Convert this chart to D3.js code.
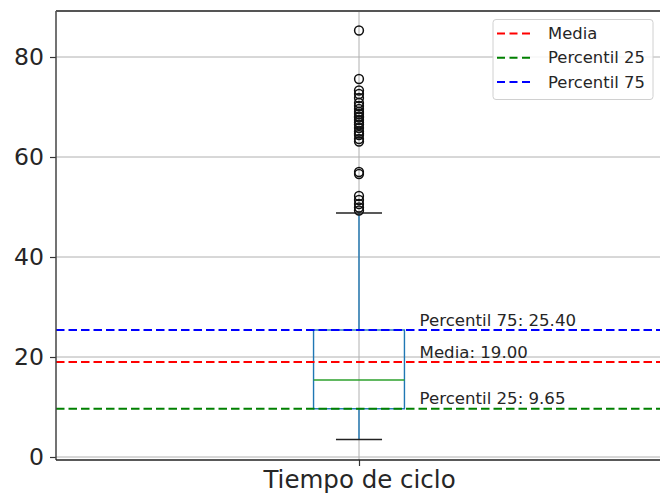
<!DOCTYPE html>
<html>
<head>
<meta charset="utf-8">
<script src="https://cdn.jsdelivr.net/npm/d3@7"></script>
<style>
  html, body { margin: 0; padding: 0; background: #fff; }
  svg { display: block; font-family: "DejaVu Sans", sans-serif; }
</style>
</head>
<body>
<svg id="chart" width="660" height="497"></svg>
<script>
// Box plot data for the cycle time column
const categories = ["Tiempo de ciclo"];
const quartiles = [9.65, 15.4, 25.4];        // Q1, median, Q3
const whiskers = [3.5, 48.8];                // lower / upper whisker ends
const outliers = [85.3, 75.6, 73.3, 72.6, 71.8, 70.8, 70.2, 69.6, 69.0, 68.6,
                  68.1, 67.9, 67.4, 66.9, 66.5, 65.8, 65.1, 64.7, 64.4, 63.6,
                  63.1, 57.0, 56.6, 52.2, 51.4, 50.6, 49.9, 49.3];

// Reference lines (mean and percentiles)
const refNames = ["Media", "Percentil 25", "Percentil 75"];
const refValues = [19.00, 9.65, 25.40];
const refColors = ["#ff0000", "#008000", "#0000ff"];

const yTicks = [0, 20, 40, 60, 80];

(function draw() {
  const svg = d3.select("#chart");
  const plotLeft = 56, plotRight = 662, plotTop = 11, plotBottom = 460;

  const y = d3.scaleLinear().domain([-0.6, 89.2]).range([plotBottom, plotTop]);
  const x = d3.scaleLinear().domain([0.5, 1.5]).range([plotLeft, plotRight]);
  const pos = 1;
  const boxW = 0.15, capW = 0.076;
  const textColor = "#262626";

  // Grid
  const grid = svg.append("g");
  grid.selectAll("line.h").data(yTicks).join("line")
    .attr("x1", plotLeft).attr("x2", plotRight)
    .attr("y1", d => y(d)).attr("y2", d => y(d))
    .attr("stroke", "#b0b0b0").attr("stroke-width", 1);
  grid.append("line")
    .attr("x1", x(pos)).attr("x2", x(pos))
    .attr("y1", plotTop).attr("y2", plotBottom)
    .attr("stroke", "#b0b0b0").attr("stroke-width", 1);

  // Whiskers
  const g = svg.append("g");
  g.append("line")
    .attr("x1", x(pos)).attr("x2", x(pos))
    .attr("y1", y(quartiles[0])).attr("y2", y(whiskers[0]))
    .attr("stroke", "#1f77b4").attr("stroke-width", 1.4);
  g.append("line")
    .attr("x1", x(pos)).attr("x2", x(pos))
    .attr("y1", y(quartiles[2])).attr("y2", y(whiskers[1]))
    .attr("stroke", "#1f77b4").attr("stroke-width", 1.4);
  // Caps
  g.selectAll("line.cap").data(whiskers).join("line")
    .attr("x1", x(pos - capW / 2)).attr("x2", x(pos + capW / 2))
    .attr("y1", d => y(d)).attr("y2", d => y(d))
    .attr("stroke", "#222").attr("stroke-width", 1.6);
  // Box
  g.append("rect")
    .attr("x", x(pos - boxW / 2)).attr("width", x(pos + boxW / 2) - x(pos - boxW / 2))
    .attr("y", y(quartiles[2])).attr("height", y(quartiles[0]) - y(quartiles[2]))
    .attr("fill", "none").attr("stroke", "#1f77b4").attr("stroke-width", 1.4);
  // Median
  g.append("line")
    .attr("x1", x(pos - boxW / 2)).attr("x2", x(pos + boxW / 2))
    .attr("y1", y(quartiles[1])).attr("y2", y(quartiles[1]))
    .attr("stroke", "#2ca02c").attr("stroke-width", 1.3);
  // Outliers
  g.selectAll("circle").data(outliers).join("circle")
    .attr("cx", x(pos)).attr("cy", d => y(d)).attr("r", 4.4)
    .attr("fill", "none").attr("stroke", "#111").attr("stroke-width", 1.5);

  // Reference lines and labels
  const refs = refNames.map((n, i) => ({ name: n, value: refValues[i], color: refColors[i] }));
  svg.append("g").selectAll("line").data(refs).join("line")
    .attr("x1", plotLeft).attr("x2", plotRight)
    .attr("y1", d => y(d.value)).attr("y2", d => y(d.value))
    .attr("stroke", d => d.color).attr("stroke-width", 2)
    .attr("stroke-dasharray", "8.5,4");
  svg.append("g").selectAll("text").data(refs).join("text")
    .attr("x", x(1.1)).attr("y", d => y(d.value) - 4.5)
    .attr("font-size", 16.6).attr("fill", textColor)
    .text(d => `${d.name}: ${d.value.toFixed(2)}`);

  // Axes
  const yAxis = svg.append("g").attr("transform", `translate(${plotLeft},0)`)
    .call(d3.axisLeft(y).tickValues(yTicks).tickSize(6).tickPadding(6).tickFormat(d3.format("d")));
  yAxis.select(".domain").remove();
  yAxis.selectAll(".tick line").attr("stroke", "#333").attr("stroke-width", 1.2);
  yAxis.selectAll(".tick text").attr("font-size", 23.5).attr("fill", textColor)
    .attr("font-family", "DejaVu Sans");

  const xAxis = svg.append("g").attr("transform", `translate(0,${plotBottom})`)
    .call(d3.axisBottom(x).tickValues([pos]).tickSize(6).tickPadding(5).tickFormat(() => categories[0]));
  xAxis.select(".domain").remove();
  xAxis.selectAll(".tick line").attr("stroke", "#333").attr("stroke-width", 1.2);
  xAxis.selectAll(".tick text").attr("font-size", 24.5).attr("fill", textColor)
    .attr("font-family", "DejaVu Sans");

  // Spines
  svg.append("line").attr("x1", plotLeft).attr("x2", plotLeft).attr("y1", plotTop).attr("y2", plotBottom)
    .attr("stroke", "#444").attr("stroke-width", 1.5);
  svg.append("line").attr("x1", plotLeft).attr("x2", plotRight).attr("y1", plotTop).attr("y2", plotTop)
    .attr("stroke", "#555").attr("stroke-width", 2);
  svg.append("line").attr("x1", plotLeft).attr("x2", plotRight).attr("y1", plotBottom).attr("y2", plotBottom)
    .attr("stroke", "#222").attr("stroke-width", 1.5);

  // Legend
  const legend = svg.append("g").attr("transform", "translate(493,19.5)");
  legend.append("rect").attr("width", 160).attr("height", 80).attr("rx", 3)
    .attr("fill", "rgba(255,255,255,0.85)").attr("stroke", "#d0d0d0").attr("stroke-width", 1);
  const rows = legend.selectAll("g.row").data(refs).join("g")
    .attr("transform", (d, i) => `translate(0,${14 + i * 24.2})`);
  rows.append("line").attr("x1", 4).attr("x2", 40)
    .attr("stroke", d => d.color).attr("stroke-width", 2).attr("stroke-dasharray", "8,4.5");
  rows.append("text").attr("x", 55).attr("dy", "0.35em")
    .attr("font-size", 16.4).attr("fill", textColor).text(d => d.name);
})();
</script>
</body>
</html>
